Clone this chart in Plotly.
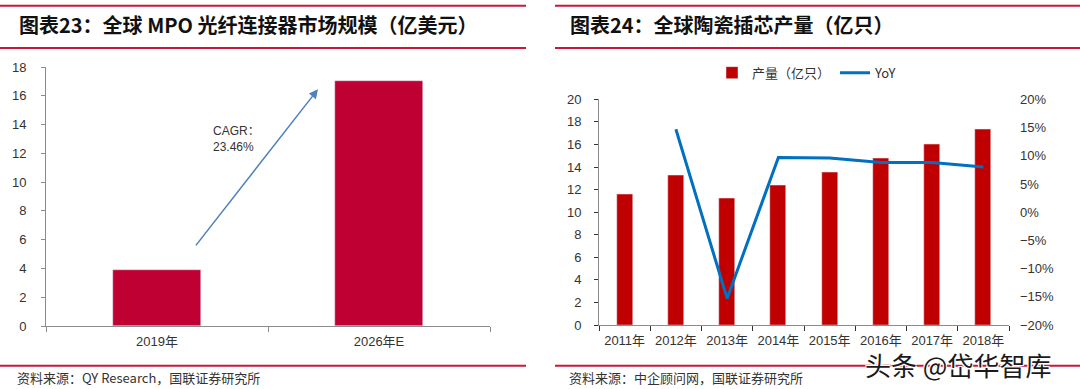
import plotly.graph_objects as go

# ---- data ----
mpo_years = ["2019年", "2026年E"]
mpo_values = [3.9, 17.03]
cagr_label = "CAGR：<br>23.46%"

ferrule_years = ["2011年", "2012年", "2013年", "2014年", "2015年", "2016年", "2017年", "2018年"]
ferrule_output = [11.6, 13.3, 11.26, 12.4, 13.56, 14.78, 16.05, 17.38]
ferrule_yoy = [None, 0.147, -0.153, 0.097, 0.096, 0.088, 0.088, 0.080]

title_left = "图表23：全球 MPO 光纤连接器市场规模（亿美元）"
title_right = "图表24：全球陶瓷插芯产量（亿只）"
source_left = "资料来源：QY Research，国联证券研究所"
source_right = "资料来源：中企顾问网，国联证券研究所"
watermark = "头条 @岱华智库"

W, H = 1080, 389
def px(x):
    return x / W
def py(y):
    return 1 - y / H

FONT = "Liberation Sans, Noto Sans CJK SC, sans-serif"
CJK = "Noto Sans CJK SC, sans-serif"
RED_LINE = "#C8173C"

fig = go.Figure()

fig.add_trace(go.Bar(
    x=mpo_years, y=mpo_values, marker_color="#BE0032", width=0.4,
    showlegend=False, xaxis="x", yaxis="y", hoverinfo="skip"))

fig.add_trace(go.Bar(
    x=ferrule_years, y=ferrule_output, marker_color="#C00000", width=0.31,
    name="产量（亿只）", xaxis="x2", yaxis="y2"))

fig.add_trace(go.Scatter(
    x=ferrule_years, y=ferrule_yoy, mode="lines", line=dict(color="#0070C0", width=3),
    name="YoY", xaxis="x2", yaxis="y3", connectgaps=False))

axis_common = dict(showgrid=False, zeroline=False, linecolor="#8c8c8c", linewidth=1,
                   automargin=False,
                   tickfont=dict(family=FONT, size=13, color="#333333"))

fig.update_layout(
    width=W, height=H, autosize=False,
    margin=dict(l=0, r=0, t=0, b=0, pad=0, autoexpand=False),
    paper_bgcolor="white", plot_bgcolor="white",
    font=dict(family=FONT, color="#333333"),
    bargap=0,
    xaxis=dict(domain=[px(46), px(490)], anchor="y", showline=True,
               ticks="outside", ticklen=5, tickcolor="#8c8c8c", tickson="boundaries",
               ticklabelstandoff=3, **axis_common),
    yaxis=dict(domain=[py(326), py(67)], anchor="x", range=[0, 18], dtick=2,
               showline=True, ticks="outside", ticklen=4, tickcolor="#8c8c8c",
               ticklabelstandoff=12, **axis_common),
    xaxis2=dict(domain=[px(599), px(1009)], anchor="y2", showline=True,
                ticks="outside", ticklen=5, tickcolor="#333333", tickson="boundaries",
                ticklabelstandoff=3, **axis_common),
    yaxis2=dict(domain=[py(325), py(99.3)], anchor="x2", range=[0, 20], dtick=2,
                showline=True, ticks="outside", ticklen=4, tickcolor="#333333",
                ticklabelstandoff=10, **axis_common),
    yaxis3=dict(overlaying="y2", anchor="x2", side="right", range=[-0.2, 0.2], dtick=0.05,
                tickformat=".0%", showline=False, showgrid=False, zeroline=False,
                ticks="", ticklabelstandoff=10, automargin=False,
                tickfont=dict(family=FONT, size=13, color="#333333")),
    legend=dict(orientation="h", x=px(712), y=py(72.7), xanchor="left", yanchor="middle",
                font=dict(family=CJK, size=13, color="#333333"), bgcolor="rgba(0,0,0,0)",
                itemwidth=30, tracegroupgap=0),
)

# arrow and CAGR label (left chart)
fig.add_annotation(x=0.725, y=16.45, ax=0.17, ay=5.5, xref="x", yref="y", axref="x", ayref="y",
                   showarrow=True, arrowhead=2, arrowsize=1.2, arrowwidth=1.5,
                   arrowcolor="#4F81BD", text="")
fig.add_annotation(x=0.243, y=14.2, xref="x", yref="y", text=cagr_label, showarrow=False,
                   xanchor="left", yanchor="top", align="left",
                   font=dict(family=FONT, size=12, color="#333333"))

# titles
fig.add_annotation(x=px(17), y=py(25), xref="paper", yref="paper", text="<b>" + title_left + "</b>",
                   showarrow=False, xanchor="left", yanchor="middle",
                   font=dict(family=CJK, size=20, color="#111111"))
fig.add_annotation(x=px(568), y=py(25), xref="paper", yref="paper", text="<b>" + title_right + "</b>",
                   showarrow=False, xanchor="left", yanchor="middle",
                   font=dict(family=CJK, size=20, color="#111111"))

# sources
fig.add_annotation(x=px(15), y=py(377), xref="paper", yref="paper", text=source_left,
                   showarrow=False, xanchor="left", yanchor="middle",
                   font=dict(family=CJK, size=13, color="#333333"))
fig.add_annotation(x=px(567), y=py(377), xref="paper", yref="paper", text=source_right,
                   showarrow=False, xanchor="left", yanchor="middle",
                   font=dict(family=CJK, size=13, color="#333333"))

# red separator lines
for (x0, x1) in [(0, 526), (555, 1080)]:
    for yy in [5.7, 48, 365.7]:
        fig.add_shape(type="line", xref="paper", yref="paper",
                      x0=px(x0), x1=px(x1), y0=py(yy), y1=py(yy),
                      line=dict(color=RED_LINE, width=2))

# watermark
fig.add_annotation(x=px(958), y=py(364), xref="paper", yref="paper", text=watermark,
                   showarrow=False, xanchor="center", yanchor="middle",
                   font=dict(family=CJK, size=26, color="#1a1a1a",
                             shadow="1px 1px 0 white, -1px -1px 0 white, 1px -1px 0 white, -1px 1px 0 white"))

fig.write_html(
    "out.html",
    config={"displayModeBar": False},
    post_script="document.body.style.margin='0';document.body.style.padding='0';"
                "document.documentElement.style.overflow='hidden';",
)
